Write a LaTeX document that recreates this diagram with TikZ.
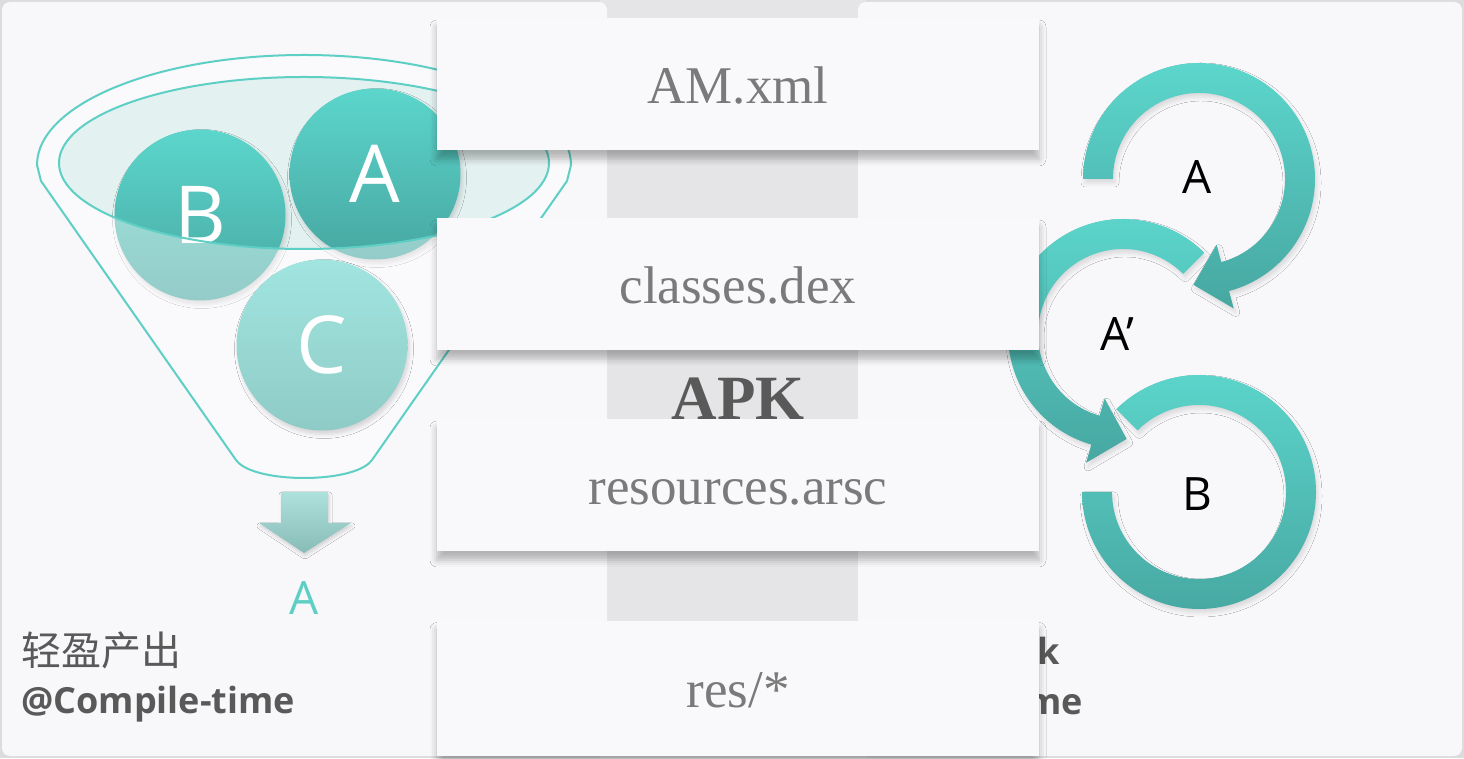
\documentclass[tikz,border=0pt]{standalone}
\usepackage{fontspec}
\setmainfont{Liberation Serif}
\newfontfamily\osf{Open Sans}
\newfontfamily\cjkf{Noto Sans CJK SC}
\usetikzlibrary{shadows.blur,calc}
\definecolor{bggray}{HTML}{DCDBDE}
\definecolor{strip}{HTML}{E5E4E7}
\definecolor{panel}{HTML}{F8F7FA}
\definecolor{boxfill}{HTML}{F9F8FB}
\definecolor{txtgray}{HTML}{7A7A7A}
\definecolor{darkgray}{HTML}{595959}
\definecolor{tealtop}{HTML}{5CD6CC}
\definecolor{tealbot}{HTML}{47A7A1}
\definecolor{paletop}{HTML}{A1E5E0}
\definecolor{palebot}{HTML}{8FCBC6}
\definecolor{tealline}{HTML}{5ECFC5}
\definecolor{ellfill}{HTML}{E3F1F0}
\definecolor{arrtop}{HTML}{AEE0DC}
\definecolor{arrbot}{HTML}{88BCB7}
\tikzset{
  filebox/.style={rectangle, fill=boxfill, minimum width=602pt, minimum height=132pt,
    text height=39pt, text depth=0pt, inner sep=0pt,
    font=\fontsize{53}{60}\selectfont, text=txtgray,
    blur shadow={shadow xshift=0pt, shadow yshift=-9pt, shadow blur radius=7pt, shadow opacity=28}},
  ball/.style={circle, minimum size=171pt, inner sep=0pt, text=white,
    font=\osf\fontsize{80}{90}\selectfont, top color=tealtop, bottom color=tealbot,
    blur shadow={shadow xshift=2pt, shadow yshift=-4pt, shadow blur radius=4pt, shadow opacity=15}},
  paleball/.style={ball, top color=paletop, bottom color=palebot},
  ringarrow/.style={top color=tealtop, bottom color=tealbot,
    blur shadow={shadow xshift=2pt, shadow yshift=-4pt, shadow blur radius=4pt, shadow opacity=12}},
  ringlabel/.style={font=\osf\fontsize{46}{50}\selectfont, text=black, inner sep=0pt},
  footlabel/.style={font=\osf\bfseries\fontsize{36}{40}\selectfont, text=darkgray, inner sep=0pt, anchor=base west},
  funnelline/.style={draw=tealline, line width=2pt}
}
\begin{document}
\begin{tikzpicture}[x=1pt,y=1pt]
\useasboundingbox (0,0) rectangle (1464,758);
% backgrounds
\fill[bggray] (0,0) rectangle (1464,758);
\fill[strip] (600,0) rectangle (866,758);
\fill[panel, rounded corners=8pt] (2,2) rectangle (607,756);
\fill[panel, rounded corners=8pt] (858,2) rectangle (1462,756);

% funnel: inner ellipse fill
\fill[ellfill] (304,595) ellipse[x radius=245pt, y radius=86pt];
% balls
\node[ball] (ballB) at (200,543) {B};
\node[ball] (ballA) at (375,584) {A};
% pale overlay of funnel body
\fill[white, fill opacity=0.42, even odd rule]
  (37,593) arc[start angle=180, end angle=0, x radius=267pt, y radius=110pt]
  -- (567,577) -- (372,298) .. controls (355,274) and (253,274) .. (236,298)
  -- (41,577) -- cycle
  (304,595) ellipse[x radius=245pt, y radius=86pt];
\node[paleball] (ballC) at (322,413) {C};
% funnel outlines
\draw[funnelline]
  (37,593) arc[start angle=180, end angle=0, x radius=267pt, y radius=110pt]
  -- (567,577) -- (372,298) .. controls (355,274) and (253,274) .. (236,298)
  -- (41,577) -- cycle;
\draw[funnelline] (304,595) ellipse[x radius=245pt, y radius=86pt];

% down arrow
\shade[top color=arrtop, bottom color=arrbot,
  blur shadow={shadow xshift=1pt, shadow yshift=-3pt, shadow blur radius=3pt, shadow opacity=15}]
  (281,266) -- (328,266) -- (328,235) -- (351,235) -- (304,205) -- (259,235) -- (281,235) -- cycle;
\node[font=\osf\fontsize{46}{50}\selectfont, text=tealline, anchor=base, inner sep=0pt] (outA) at (304,143) {A};

% bottom-left labels
\node[font=\cjkf\fontsize{40}{44}\selectfont, text=darkgray, inner sep=0pt, anchor=base west] (lightout) at (21,93) {轻盈产出};
\node[footlabel] (compile) at (21,45) {@Compile-time};

% APK title
\node[font=\bfseries\fontsize{63}{70}\selectfont, text=darkgray, anchor=base, inner sep=0pt] (apk) at (738,338) {APK};

% right ring arrows
\coordinate (c1) at (1199,579);
\coordinate (c2) at (1123,424);
\coordinate (c3) at (1199,266);
\shade[ringarrow]
  ($(c3)+(135:117)$) arc[start angle=135, end angle=-180, radius=117pt]
  -- ($(c3)+(180:87)$) arc[start angle=-180, end angle=135, radius=87pt] -- cycle;
\shade[ringarrow]
  ($(c2)+(45:115)$) arc[start angle=45, end angle=254, radius=115pt]
  -- ($(c2)+(254:134)$) -- ($(c2)+(272:105)$) -- ($(c2)+(254:67)$)
  -- ($(c2)+(254:85)$) arc[start angle=254, end angle=45, radius=85pt] -- cycle;
\shade[ringarrow]
  ($(c1)+(180:116)$) arc[start angle=180, end angle=-75, radius=116pt]
  -- ($(c1)+(-75:134)$) -- ($(c1)+(-93:106)$) -- ($(c1)+(-75:68)$)
  -- ($(c1)+(-75:86)$) arc[start angle=-75, end angle=180, radius=86pt] -- cycle;
\node[ringlabel] (rA) at (1197,581) {A};
\node[ringlabel] (rA2) at (1117,424) {A’};
\node[ringlabel] (rB) at (1197,264) {B};

% right footer fragments
\node[footlabel] (hookk) at (1037,94) {k};
\node[footlabel] (runme) at (1026,44) {me};

% file boxes
\node[filebox] (am) at (738,674) {AM.xml};
\node[filebox] (dex) at (738,474) {classes.dex};
\node[filebox] (arsc) at (738,273) {resources.arsc};
\node[filebox, minimum height=135pt] (res) at (738,70) {res/*};
\end{tikzpicture}
\end{document}
